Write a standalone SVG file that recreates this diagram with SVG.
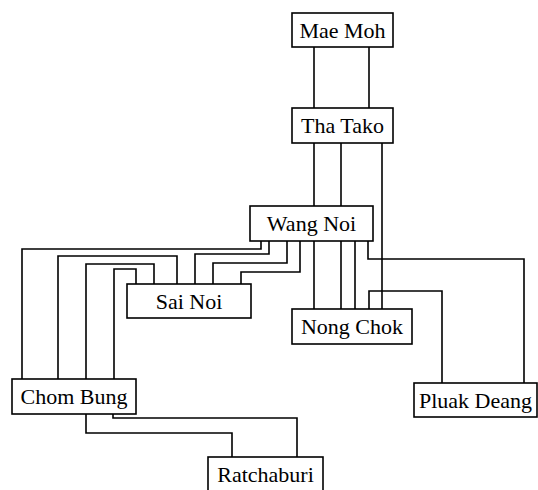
<svg xmlns="http://www.w3.org/2000/svg" width="538" height="490" viewBox="0 0 538 490">
<style>
.box{fill:#fff;stroke:#000;stroke-width:1.6}
.lbl{font-family:'Liberation Serif','Times New Roman',serif;font-size:22px;fill:#000;text-anchor:middle}
.edge{fill:none;stroke:#000;stroke-width:1.6}
</style>
<rect width="538" height="490" fill="#fff"/>
<g id="connectors">
<path class="edge" d="M314,47V108"/>
<path class="edge" d="M369,47V108"/>
<path class="edge" d="M314,143V206"/>
<path class="edge" d="M341,143V206"/>
<path class="edge" d="M382,143V309"/>
<path class="edge" d="M314,241V309"/>
<path class="edge" d="M341,241V309"/>
<path class="edge" d="M355,241V309"/>
<path class="edge" d="M368,241V259H524V383"/>
<path class="edge" d="M369,309V291H442V383"/>
<path class="edge" d="M261,241V249H22V379"/>
<path class="edge" d="M269,241V254H195V284"/>
<path class="edge" d="M287,241V263H213V284"/>
<path class="edge" d="M300,241V272H241V284"/>
<path class="edge" d="M177,284V256H58V379"/>
<path class="edge" d="M154,284V264H86V379"/>
<path class="edge" d="M136,284V269H114V379"/>
<path class="edge" d="M86,414V433H232V457"/>
<path class="edge" d="M113,414V418H297V457"/>
</g>
<g id="mae-moh"><rect class="box" x="292" y="13" width="101" height="34"/><text class="lbl" x="342.5" y="37.5">Mae Moh</text></g>
<g id="tha-tako"><rect class="box" x="292" y="108" width="101" height="35"/><text class="lbl" x="342.5" y="133">Tha Tako</text></g>
<g id="wang-noi"><rect class="box" x="250" y="206" width="123" height="35"/><text class="lbl" x="311.5" y="231">Wang Noi</text></g>
<g id="sai-noi"><rect class="box" x="127" y="284" width="124" height="34"/><text class="lbl" x="189" y="308.5">Sai Noi</text></g>
<g id="nong-chok"><rect class="box" x="292" y="309" width="120" height="35"/><text class="lbl" x="352" y="334">Nong Chok</text></g>
<g id="chom-bung"><rect class="box" x="12" y="379" width="124" height="35"/><text class="lbl" x="74" y="404">Chom Bung</text></g>
<g id="pluak-deang"><rect class="box" x="414" y="383" width="123" height="34"/><text class="lbl" x="475.5" y="407.5">Pluak Deang</text></g>
<g id="ratchaburi"><rect class="box" x="208" y="457" width="115" height="35"/><text class="lbl" x="265.5" y="482">Ratchaburi</text></g>
</svg>
